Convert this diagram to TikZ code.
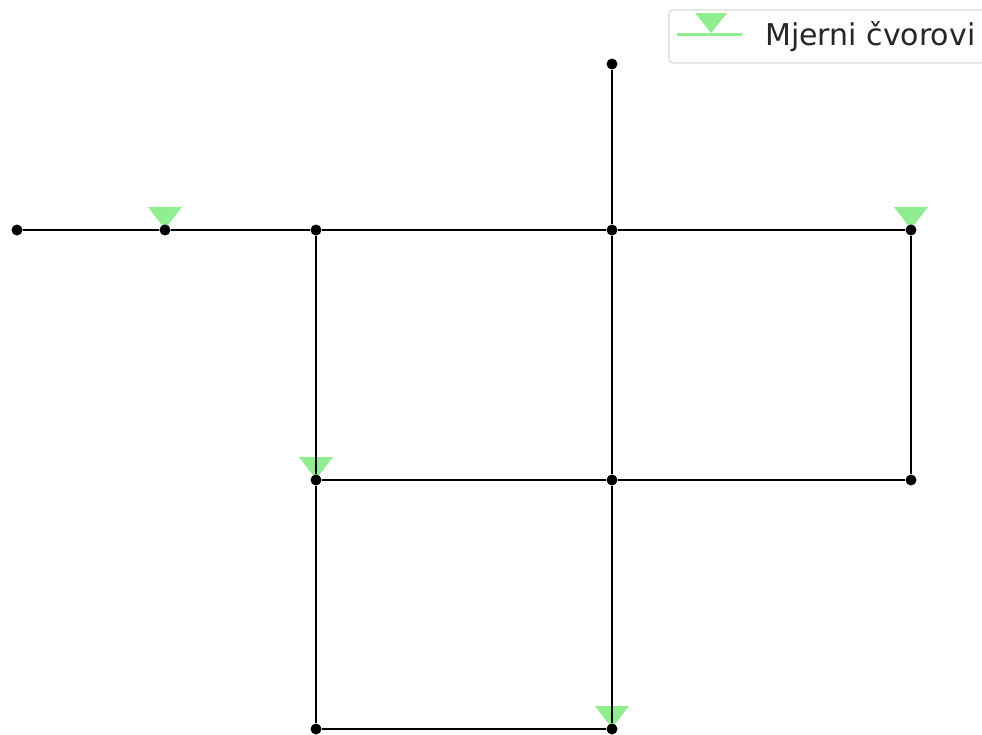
\documentclass[tikz,border=0pt]{standalone}
\usepackage{fontspec}
\newfontfamily\legendfont{DejaVu Sans}
\usetikzlibrary{backgrounds}
\definecolor{mjernazel}{RGB}{144,238,144}
\tikzset{
  cvor/.style={circle,fill=black,inner sep=0pt,minimum size=11pt},
  cijev/.style={line width=2.7pt,black},
  mjerni/.style={fill=mjernazel},
}
\begin{document}
\begin{tikzpicture}[x=1pt,y=-1pt]
  \useasboundingbox (0,0) rectangle (982,734);
  % cvorovi
  \node[cvor] (n1) at (17,230) {};
  \node[cvor] (n2) at (165,230) {};
  \node[cvor] (n3) at (316,230) {};
  \node[cvor] (n4) at (612,230) {};
  \node[cvor] (n5) at (911,230) {};
  \node[cvor] (n6) at (612,64) {};
  \node[cvor] (n7) at (316,480) {};
  \node[cvor] (n8) at (612,480) {};
  \node[cvor] (n9) at (911,480) {};
  \node[cvor] (n10) at (316,729) {};
  \node[cvor] (n11) at (612,729) {};
  % cijevi
  \draw[cijev] (n1)--(n2)--(n3)--(n4)--(n5);
  \draw[cijev] (n6)--(n4);
  \draw[cijev] (n3)--(n7);
  \draw[cijev] (n4)--(n8);
  \draw[cijev] (n5)--(n9);
  \draw[cijev] (n7)--(n8)--(n9);
  \draw[cijev] (n7)--(n10);
  \draw[cijev] (n8)--(n11);
  \draw[cijev] (n10)--(n11);
  % mjerni cvorovi
  \begin{scope}[on background layer]
    \foreach \m in {n2,n5,n7,n11}
      \fill[mjerni] (\m) ++(-17,-23) -- ++(34,0) -- ++(-17,22) -- cycle;
  \end{scope}
  % legenda
  \draw[rounded corners=4pt,draw=black!15,line width=1.2pt,fill=white] (669,10) rectangle (1000,63);
  \coordinate (l1) at (677,34);
  \coordinate (l2) at (742,34);
  \draw[mjernazel,line width=3pt] (l1)--(l2);
  \fill[mjerni] (711,13) ++(-16,0) -- ++(32,0) -- ++(-16,20) -- cycle;
  \node[anchor=base west,inner sep=0pt,font=\legendfont\fontsize{30}{36}\selectfont,text=black!85] (leg) at (765,45) {Mjerni čvorovi};
\end{tikzpicture}
\end{document}
